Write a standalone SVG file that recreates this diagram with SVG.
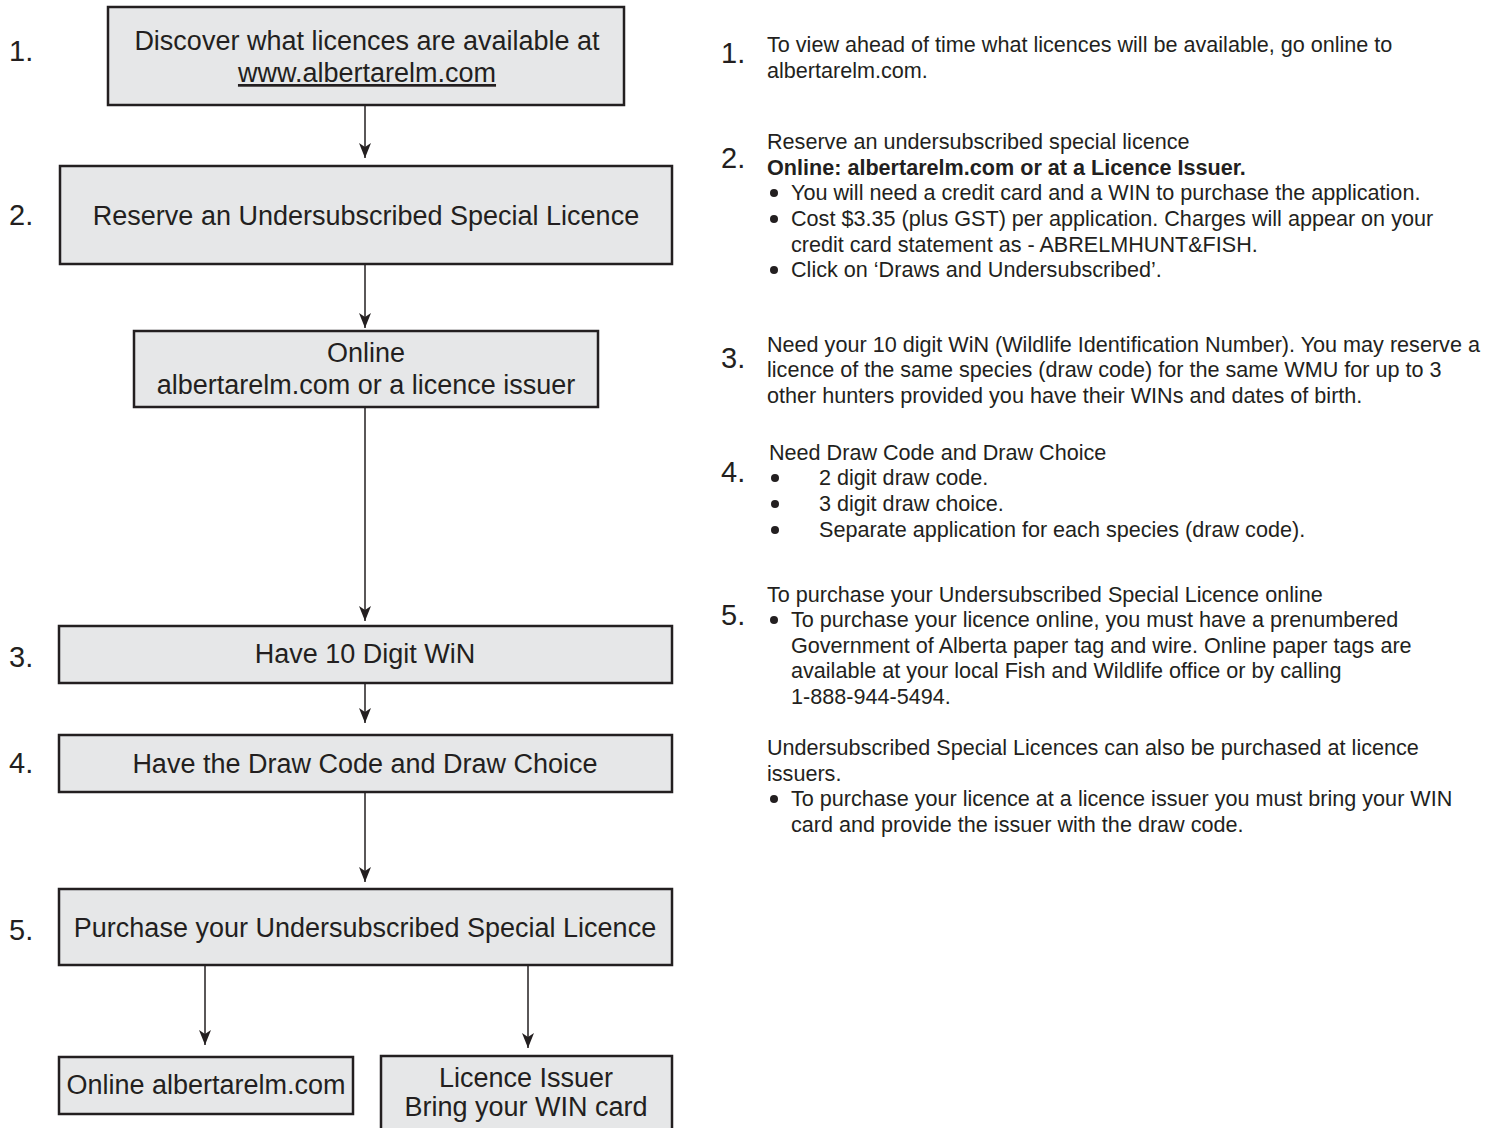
<svg xmlns="http://www.w3.org/2000/svg" width="1492" height="1128" viewBox="0 0 1492 1128">
<defs>
<style>
.box{fill:#e6e7e8;stroke:#231f20;stroke-width:2.5}
.bt{font-family:"Liberation Sans",Arial,sans-serif;font-size:27px;fill:#231f20;text-anchor:middle}
.num{font-family:"Liberation Sans",Arial,sans-serif;font-size:29px;fill:#231f20}
.rt{font-family:"Liberation Sans",Arial,sans-serif;font-size:21.6px;fill:#231f20}
.b{font-weight:bold}
.con{stroke:#231f20;stroke-width:1.5;fill:none;marker-end:url(#ah)}
.dot{fill:#231f20}
</style>
<marker id="ah" markerUnits="userSpaceOnUse" viewBox="0 -6 15 12" refX="15" refY="0" markerWidth="15" markerHeight="12" orient="auto">
<path d="M0,-6 L15,0 L0,6 L4,0 z" fill="#231f20"/>
</marker>
</defs>
<rect width="1492" height="1128" fill="#ffffff"/>

<g id="connectors">
<line class="con" x1="365" y1="105" x2="365" y2="158"/>
<line class="con" x1="365" y1="264" x2="365" y2="328"/>
<line class="con" x1="365" y1="407" x2="365" y2="621"/>
<line class="con" x1="365" y1="683" x2="365" y2="723"/>
<line class="con" x1="365" y1="792" x2="365" y2="882"/>
<line class="con" x1="205" y1="965" x2="205" y2="1045"/>
<line class="con" x1="528" y1="965" x2="528" y2="1048"/>
</g>

<g id="node1">
<rect class="box" x="108" y="7" width="516" height="98"/>
<text class="bt" x="367" y="50">Discover what licences are available at</text>
<text class="bt" x="367" y="82" text-decoration="underline">www.albertarelm.com</text>
</g>
<g id="node2">
<rect class="box" x="60" y="166" width="612" height="98"/>
<text class="bt" x="366" y="225">Reserve an Undersubscribed Special Licence</text>
</g>
<g id="node2b">
<rect class="box" x="134" y="331" width="464" height="76"/>
<text class="bt" x="366" y="362">Online</text>
<text class="bt" x="366" y="394">albertarelm.com or a licence issuer</text>
</g>
<g id="node3">
<rect class="box" x="59" y="626" width="613" height="57"/>
<text class="bt" x="365" y="663">Have 10 Digit WiN</text>
</g>
<g id="node4">
<rect class="box" x="59" y="735" width="613" height="57"/>
<text class="bt" x="365" y="773">Have the Draw Code and Draw Choice</text>
</g>
<g id="node5">
<rect class="box" x="59" y="889" width="613" height="76"/>
<text class="bt" x="365" y="937">Purchase your Undersubscribed Special Licence</text>
</g>
<g id="node6">
<rect class="box" x="59" y="1057" width="294" height="57"/>
<text class="bt" x="206" y="1094">Online albertarelm.com</text>
</g>
<g id="node7">
<rect class="box" x="381" y="1056" width="291" height="80"/>
<text class="bt" x="526" y="1087">Licence Issuer</text>
<text class="bt" x="526" y="1116">Bring your WIN card</text>
</g>

<g id="step-numbers">
<text class="num" x="9" y="61">1.</text>
<text class="num" x="9" y="225">2.</text>
<text class="num" x="9" y="667">3.</text>
<text class="num" x="9" y="773">4.</text>
<text class="num" x="9" y="940">5.</text>
</g>

<g id="notes">
<text class="num" x="721" y="63">1.</text>
<text class="rt" x="767" y="52">To view ahead of time what licences will be available, go online to</text>
<text class="rt" x="767" y="78">albertarelm.com.</text>

<text class="num" x="721" y="168">2.</text>
<text class="rt" x="767" y="149">Reserve an undersubscribed special licence</text>
<text class="rt b" x="767" y="175">Online: albertarelm.com or at a Licence Issuer.</text>
<circle class="dot" cx="774" cy="193" r="4"/>
<text class="rt" x="791" y="200">You will need a credit card and a WIN to purchase the application.</text>
<circle class="dot" cx="774" cy="219" r="4"/>
<text class="rt" x="791" y="226">Cost $3.35 (plus GST) per application. Charges will appear on your</text>
<text class="rt" x="791" y="252">credit card statement as - ABRELMHUNT&amp;FISH.</text>
<circle class="dot" cx="774" cy="270" r="4"/>
<text class="rt" x="791" y="277">Click on ‘Draws and Undersubscribed’.</text>

<text class="num" x="721" y="368">3.</text>
<text class="rt" x="767" y="352">Need your 10 digit WiN (Wildlife Identification Number). You may reserve a</text>
<text class="rt" x="767" y="377">licence of the same species (draw code) for the same WMU for up to 3</text>
<text class="rt" x="767" y="403">other hunters provided you have their WINs and dates of birth.</text>

<text class="num" x="721" y="482">4.</text>
<text class="rt" x="769" y="460">Need Draw Code and Draw Choice</text>
<circle class="dot" cx="775" cy="478" r="4"/>
<text class="rt" x="819" y="485">2 digit draw code.</text>
<circle class="dot" cx="775" cy="504" r="4"/>
<text class="rt" x="819" y="511">3 digit draw choice.</text>
<circle class="dot" cx="775" cy="530" r="4"/>
<text class="rt" x="819" y="537">Separate application for each species (draw code).</text>

<text class="num" x="721" y="625">5.</text>
<text class="rt" x="767" y="602">To purchase your Undersubscribed Special Licence online</text>
<circle class="dot" cx="774" cy="620" r="4"/>
<text class="rt" x="791" y="627">To purchase your licence online, you must have a prenumbered</text>
<text class="rt" x="791" y="653">Government of Alberta paper tag and wire. Online paper tags are</text>
<text class="rt" x="791" y="678">available at your local Fish and Wildlife office or by calling</text>
<text class="rt" x="791" y="704">1-888-944-5494.</text>
<text class="rt" x="767" y="755">Undersubscribed Special Licences can also be purchased at licence</text>
<text class="rt" x="767" y="781">issuers.</text>
<circle class="dot" cx="774" cy="799" r="4"/>
<text class="rt" x="791" y="806">To purchase your licence at a licence issuer you must bring your WIN</text>
<text class="rt" x="791" y="832">card and provide the issuer with the draw code.</text>
</g>
</svg>
